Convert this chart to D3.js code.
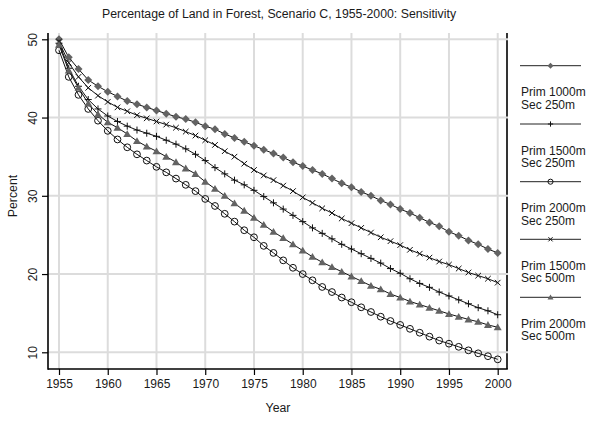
<!DOCTYPE html>
<html>
<head>
<meta charset="utf-8">
<script src="https://cdn.jsdelivr.net/npm/d3@7"></script>
<style>
  html, body { margin: 0; padding: 0; background: #fff; }
  svg { display: block; font-family: Arial, "Liberation Sans", sans-serif; }
</style>
</head>
<body>
<svg id="chart" width="600" height="423"></svg>
<script>
const years = d3.range(1955, 2001);

const seriesNames = [
  ["Prim 1000m", "Sec 250m"],
  ["Prim 1500m", "Sec 250m"],
  ["Prim 2000m", "Sec 250m"],
  ["Prim 1500m", "Sec 500m"],
  ["Prim 2000m", "Sec 500m"]
];

const prim1000sec250 = [50.0, 47.7, 46.2, 44.8, 44.0, 43.3, 42.7, 42.1, 41.7, 41.3,
  40.9, 40.5, 40.1, 39.8, 39.4, 38.9, 38.5, 37.9, 37.4, 36.9,
  36.4, 35.9, 35.4, 34.9, 34.3, 33.8, 33.3, 32.8, 32.2, 31.6,
  31.1, 30.5, 30.0, 29.4, 28.9, 28.3, 27.8, 27.2, 26.6, 26.1,
  25.4, 24.9, 24.3, 23.8, 23.2, 22.7];

const prim1500sec250 = [49.5, 46.3, 44.0, 42.3, 41.1, 40.2, 39.5, 38.9, 38.4, 38.0,
  37.6, 37.1, 36.6, 36.0, 35.3, 34.5, 33.6, 32.8, 32.0, 31.4,
  30.7, 29.9, 29.1, 28.3, 27.5, 26.7, 25.9, 25.2, 24.5, 23.8,
  23.2, 22.6, 22.0, 21.4, 20.7, 20.1, 19.4, 18.8, 18.3, 17.7,
  17.2, 16.7, 16.2, 15.7, 15.3, 14.8];

const prim2000sec250 = [48.6, 45.2, 42.9, 41.1, 39.6, 38.3, 37.2, 36.2, 35.3, 34.5,
  33.7, 33.0, 32.2, 31.4, 30.6, 29.6, 28.7, 27.7, 26.7, 25.6,
  24.7, 23.6, 22.7, 21.75, 20.8, 20.0, 19.2, 18.35, 17.7, 17.0,
  16.4, 15.75, 15.15, 14.55, 14.0, 13.5, 13.0, 12.5, 12.0, 11.5,
  11.1, 10.7, 10.25, 9.87, 9.5, 9.1];

const prim1500sec500 = [49.7, 47.0, 45.2, 43.8, 42.8, 42.0, 41.3, 40.8, 40.3, 39.9,
  39.5, 39.1, 38.7, 38.2, 37.7, 37.1, 36.5, 35.7, 35.0, 34.1,
  33.3, 32.6, 32.0, 31.3, 30.6, 29.8, 29.1, 28.4, 27.8, 27.1,
  26.5, 25.9, 25.3, 24.7, 24.2, 23.7, 23.1, 22.6, 22.1, 21.6,
  21.2, 20.7, 20.2, 19.8, 19.4, 18.9];

const prim2000sec500 = [49.3, 46.0, 43.8, 41.8, 40.4, 39.4, 38.7, 37.9, 37.0, 36.3,
  35.7, 35.0, 34.3, 33.5, 32.8, 31.8, 30.9, 30.0, 29.05, 28.1,
  27.2, 26.3, 25.4, 24.6, 23.8, 23.0, 22.2, 21.5, 20.9, 20.3,
  19.7, 19.1, 18.5, 18.05, 17.45, 17.0, 16.5, 16.1, 15.7, 15.3,
  14.9, 14.55, 14.2, 13.9, 13.5, 13.2];

const xTicks = [1955, 1960, 1965, 1970, 1975, 1980, 1985, 1990, 1995, 2000];
const yTicks = [10, 20, 30, 40, 50];

const titleText = "Percentage of Land in Forest, Scenario C, 1955-2000: Sensitivity";
const xTitle = "Year";
const yTitle = "Percent";

const seriesValues = [prim1000sec250, prim1500sec250, prim2000sec250, prim1500sec500, prim2000sec500];
const markerKinds = ["diamond", "plus", "circle", "cross", "triangle"];

// ---- layout ----
const plotL = 48, plotR = 507, plotT = 33, plotB = 369;
const x = d3.scaleLinear().domain([1955, 2000]).range([59, 497.7]);
const y = d3.scaleLinear().domain([10, 50]).range([352.3, 39.3]);

const svg = d3.select("#chart");
const textColor = "#1a1a1a";
const gridColor = "#dcdcdc";
const markGray = "#636363";

// right border (drawn before grid so the grid crosses it)
svg.append("line")
  .attr("x1", plotR).attr("x2", plotR).attr("y1", plotT).attr("y2", plotB)
  .attr("stroke", "#000").attr("stroke-width", 1.6);

// grid
const grid = svg.append("g");
grid.selectAll("line.gx").data(xTicks).join("line")
  .attr("x1", d => x(d)).attr("x2", d => x(d))
  .attr("y1", plotT).attr("y2", plotB)
  .attr("stroke", gridColor).attr("stroke-width", 2);
grid.selectAll("line.gy").data(yTicks).join("line")
  .attr("x1", plotL).attr("x2", plotR + 1)
  .attr("y1", d => y(d)).attr("y2", d => y(d))
  .attr("stroke", gridColor).attr("stroke-width", 2);

// axes
const xAxis = svg.append("g").attr("transform", `translate(0,${plotB})`)
  .call(d3.axisBottom(x).tickValues(xTicks).tickFormat(d3.format("d")).tickSize(6).tickPadding(4));
xAxis.select(".domain").remove();
xAxis.selectAll("line").attr("stroke", "#000").attr("stroke-width", 1.2);
xAxis.selectAll("text").attr("font-size", 12).attr("fill", textColor)
  .attr("font-family", "Arial, 'Liberation Sans', sans-serif");

const yAxis = svg.append("g").attr("transform", `translate(${plotL},0)`)
  .call(d3.axisLeft(y).tickValues(yTicks).tickSize(6));
yAxis.select(".domain").remove();
yAxis.selectAll("line").attr("stroke", "#000").attr("stroke-width", 1.2);
yAxis.selectAll("text")
  .attr("font-size", 12).attr("fill", textColor)
  .attr("font-family", "Arial, 'Liberation Sans', sans-serif")
  .attr("transform", "rotate(-90)")
  .attr("x", 0).attr("y", -11).attr("dy", 0)
  .attr("text-anchor", "middle");

// axis lines
svg.append("line").attr("x1", plotL).attr("x2", plotL).attr("y1", plotT).attr("y2", plotB + 0.8)
  .attr("stroke", "#000").attr("stroke-width", 1.6);
svg.append("line").attr("x1", plotL).attr("x2", plotR + 0.8).attr("y1", plotB).attr("y2", plotB)
  .attr("stroke", "#000").attr("stroke-width", 1.6);

// titles
svg.append("text").attr("x", 279).attr("y", 18).attr("text-anchor", "middle")
  .attr("font-size", 12.3).attr("fill", textColor).text(titleText);
svg.append("text").attr("x", 278).attr("y", 412).attr("text-anchor", "middle")
  .attr("font-size", 12.3).attr("fill", textColor).text(xTitle);
svg.append("text").attr("transform", "translate(17,196) rotate(-90)").attr("text-anchor", "middle")
  .attr("font-size", 12.3).attr("fill", textColor).text(yTitle);

// markers
function drawMarker(g, kind, s) {
  if (kind === "diamond") {
    g.append("path").attr("d", `M0,${-4*s}L${4*s},0L0,${4*s}L${-4*s},0Z`).attr("fill", markGray);
  } else if (kind === "triangle") {
    g.append("path").attr("d", `M0,${-3.8*s}L${4*s},${3*s}L${-4*s},${3*s}Z`).attr("fill", markGray);
  } else if (kind === "circle") {
    g.append("circle").attr("r", 3.4 * s).attr("fill", "none").attr("stroke", "#111").attr("stroke-width", 1);
  } else if (kind === "plus") {
    g.append("path").attr("d", `M${-3.5*s},0H${3.5*s}M0,${-3.5*s}V${3.5*s}`).attr("stroke", "#111").attr("stroke-width", 1);
  } else if (kind === "cross") {
    g.append("path").attr("d", `M${-2.8*s},${-2.8*s}L${2.8*s},${2.8*s}M${-2.8*s},${2.8*s}L${2.8*s},${-2.8*s}`).attr("stroke", "#111").attr("stroke-width", 1);
  }
}

const line = d3.line().x((d, i) => x(years[i])).y(d => y(d));
const plot = svg.append("g");
seriesValues.forEach((vals, si) => {
  plot.append("path").datum(vals).attr("d", line)
    .attr("fill", "none").attr("stroke", "#111").attr("stroke-width", 1);
});
seriesValues.forEach((vals, si) => {
  const mg = plot.append("g");
  vals.forEach((v, i) => {
    const g = mg.append("g").attr("transform", `translate(${x(years[i])},${y(v)})`);
    drawMarker(g, markerKinds[si], 1);
  });
});

// legend
const legY = [65.7, 124, 181.7, 239.3, 297.3];
const leg = svg.append("g");
seriesNames.forEach((nm, i) => {
  const g = leg.append("g").attr("transform", `translate(0,${legY[i]})`);
  g.append("line").attr("x1", 520).attr("x2", 581).attr("y1", 0).attr("y2", 0)
    .attr("stroke", "#222").attr("stroke-width", 1);
  const mg = g.append("g").attr("transform", "translate(550.5,0)");
  drawMarker(mg, markerKinds[i], 0.75);
  g.append("text").attr("x", 521).attr("y", 30.5).attr("font-size", 12).attr("fill", textColor).text(nm[0]);
  g.append("text").attr("x", 521).attr("y", 43).attr("font-size", 12).attr("fill", textColor).text(nm[1]);
});
</script>
</body>
</html>
